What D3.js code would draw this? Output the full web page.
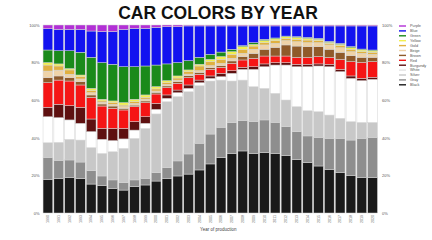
<!DOCTYPE html>
<html>
<head>
<meta charset="utf-8">
<script src="https://cdn.jsdelivr.net/npm/d3@7"></script>
<style>
  html, body { margin: 0; padding: 0; background: #fff; }
  svg { display: block; font-family: "Liberation Sans", Arial, sans-serif; }
</style>
</head>
<body>
<svg id="chart" width="432" height="240"></svg>
<script>
// years on the x axis
const years = d3.range(1990, 2021).map(String)

// share of each colour per year (%), bottom to top of the stack
const black    = [17.9,18.3,18.8,18.3,15.4,14.5,13.1,12.2,14.0,14.9,17.0,18.4,19.7,20.7,22.9,26.1,29.4,31.7,33.0,31.7,32.1,31.7,30.5,28.5,26.8,25.0,23.2,21.6,20.0,18.8,18.8]
const gray     = [11.7,9.7,9.4,8.8,7.1,5.2,4.5,3.9,3.6,3.5,4.5,5.7,8.0,10.7,14.2,15.9,16.2,16.3,16.1,16.9,17.4,16.5,15.4,14.8,14.2,15.2,16.5,18.1,18.8,20.9,21.4]
const silver   = [7.8,9.6,11.0,11.7,12.3,12.0,15.0,18.3,22.1,26.6,31.2,35.1,34.2,33.1,30.6,28.2,25.1,22.2,21.6,18.6,16.8,15.5,14.2,13.3,13.4,13.7,12.4,10.7,9.8,8.5,8.0]
const white    = [13.8,13.1,10.3,8.9,8.5,7.5,5.9,5.0,4.4,2.7,2.4,1.8,2.1,1.8,1.6,1.4,1.8,4.1,5.7,9.2,11.5,15.0,18.6,21.2,23.4,24.3,25.7,24.8,23.0,22.2,22.9]
const burgundy = [5.0,7.1,7.6,8.5,6.7,5.8,6.5,5.6,4.5,3.5,3.2,1.8,1.4,1.8,1.4,1.3,1.8,1.4,1.1,1.4,1.5,1.3,1.3,1.3,1.3,1.1,1.3,1.2,1.3,1.2,1.1]
const red      = [13.1,12.9,13.1,11.9,11.5,11.9,10.7,9.8,8.0,7.5,5.0,3.9,3.6,3.9,3.1,3.5,3.2,3.9,3.9,4.5,4.2,3.5,3.5,3.7,3.7,3.9,3.7,5.3,7.6,8.5,8.3]
const brown    = [2.7,2.2,1.8,1.8,1.3,1.1,1.2,0.9,0.8,0.9,0.9,0.9,0.9,1.0,1.0,0.9,0.9,1.3,1.8,2.6,3.6,4.6,5.9,6.0,5.7,5.3,4.3,3.8,3.2,2.7,2.3]
const beige    = [3.5,3.1,1.8,1.4,1.2,0.9,0.9,0.9,0.9,1.0,0.7,0.8,0.8,0.9,0.9,1.1,1.2,1.4,1.7,2.2,2.3,2.1,2.3,2.3,2.1,2.1,2.3,2.4,2.1,2.1,1.6]
const gold     = [3.2,2.2,2.3,1.2,1.1,0.7,0.9,0.8,0.9,0.9,1.1,0.9,1.1,1.3,2.5,2.1,2.1,2.1,2.2,1.7,1.2,1.5,1.2,1.3,1.4,1.1,0.8,1.1,1.3,0.9,1.1]
const yellow   = [1.3,1.1,0.7,0.9,1.2,0.9,0.9,1.3,1.3,1.3,1.2,1.1,1.1,0.9,0.9,1.2,1.5,1.4,1.4,0.9,1.1,0.9,0.9,1.0,0.9,0.7,0.6,0.7,0.8,0.9,0.7]
const green    = [6.7,7.0,9.5,12.1,16.5,19.5,19.5,19.1,17.3,15.4,11.5,8.9,7.1,4.9,3.7,2.7,2.4,1.3,0.5,0.9,0.7,0.5,0.3,0.4,0.5,0.5,0.5,0.5,0.6,0.5,0.5]
const blue     = [11.3,11.4,11.4,12.2,14.0,16.5,17.4,19.9,20.4,20.0,20.1,19.8,19.1,18.5,16.7,15.1,13.9,12.4,10.5,8.9,7.1,6.4,5.4,5.7,6.1,6.6,8.2,9.3,11.0,12.3,12.8]
const purple   = [2.0,2.3,2.3,2.3,3.2,3.5,3.5,2.3,1.8,1.8,1.2,0.9,0.9,0.5,0.5,0.5,0.5,0.5,0.5,0.5,0.5,0.5,0.5,0.5,0.5,0.5,0.5,0.5,0.5,0.5,0.5]

const yTicks = [0, 20, 40, 60, 80, 100]

// series names in stack order and their fills
const keys = ['Black','Gray','Silver','White','Burgundy','Red','Brown','Beige','Gold','Yellow','Green','Blue','Purple']
const seriesValues = [black, gray, silver, white, burgundy, red, brown, beige, gold, yellow, green, blue, purple]
const fills = ['#1a1a1a','#8e8e8e','#c8c8c8','#ffffff','#5e1010','#f51515','#8f5a2a','#efd3a8','#e0b040','#f2ef50','#1a8a1a','#1212f0','#b22fd6']

// rows for d3.stack
const rows = years.map((yr, i) => {
  const r = { year: yr }
  keys.forEach((k, j) => { r[k] = seriesValues[j][i] })
  return r
})

const svg = d3.select('#chart')
const margin = { left: 42.5, right: 378, top: 25, bottom: 213 }

const x = d3.scaleBand()
  .domain(years)
  .range([margin.left, margin.right])
  .paddingInner(0.1)
  .paddingOuter(0.05)

const y = d3.scaleLinear()
  .domain([0, 100])
  .range([margin.bottom, margin.top])

const color = d3.scaleOrdinal().domain(keys).range(fills)

const stacked = d3.stack().keys(keys)(rows)

// bars
svg.append('g')
  .selectAll('g')
  .data(stacked)
  .join('g')
  .attr('fill', d => color(d.key))
  .selectAll('rect')
  .data(d => d)
  .join('rect')
  .attr('x', d => x(d.data.year))
  .attr('width', x.bandwidth())
  .attr('y', d => y(d[1]))
  .attr('height', d => y(d[0]) - y(d[1]))
  .attr('stroke', '#d4d4d4')
  .attr('stroke-width', 0.5)

// left and right percent axes
const fmt = d => d + '%'
const yl = svg.append('g')
  .attr('transform', 'translate(' + (margin.left - 2) + ',0)')
  .call(d3.axisLeft(y).tickValues(yTicks).tickFormat(fmt).tickSize(0).tickPadding(1))
const yr = svg.append('g')
  .attr('transform', 'translate(' + (margin.right + 3) + ',0)')
  .call(d3.axisRight(y).tickValues(yTicks).tickFormat(fmt).tickSize(0).tickPadding(1))
;[yl, yr].forEach(g => {
  g.select('.domain').remove()
  g.selectAll('text').attr('font-size', 4).attr('fill', '#555')
})

// x axis, labels turned on their side
const xa = svg.append('g')
  .attr('transform', 'translate(0,' + (margin.bottom + 1) + ')')
  .call(d3.axisBottom(x).tickSize(0).tickPadding(0))
xa.select('.domain').remove()
xa.selectAll('text')
  .attr('font-size', 3.6)
  .attr('fill', '#666')
  .attr('transform', 'rotate(-90)')
  .attr('text-anchor', 'end')
  .attr('dx', '-1')
  .attr('dy', '0.35em')
  .attr('x', 0)
  .attr('y', 0)

svg.append('text')
  .attr('x', (margin.left + margin.right) / 2 + 8)
  .attr('y', 231)
  .attr('text-anchor', 'middle')
  .attr('font-size', 4.5)
  .attr('fill', '#444')
  .text('Year of production')

// title
svg.append('text')
  .attr('x', 218)
  .attr('y', 19)
  .attr('text-anchor', 'middle')
  .attr('font-size', 17.5)
  .attr('font-weight', 'bold')
  .attr('fill', '#111')
  .text('CAR COLORS BY YEAR')

// legend, top colour first
const legend = svg.append('g').attr('transform', 'translate(399,26)')
const legKeys = keys.slice().reverse()
const item = legend.selectAll('g')
  .data(legKeys)
  .join('g')
  .attr('transform', (d, i) => 'translate(0,' + (i * 4.9) + ')')
item.append('line')
  .attr('x1', 0).attr('x2', 7)
  .attr('stroke', d => d === 'White' ? '#e4e4e4' : color(d))
  .attr('stroke-width', 1.4)
item.append('text')
  .attr('x', 11)
  .attr('dy', '0.35em')
  .attr('font-size', 3.8)
  .attr('fill', '#555')
  .text(d => d)
</script>
</body>
</html>
